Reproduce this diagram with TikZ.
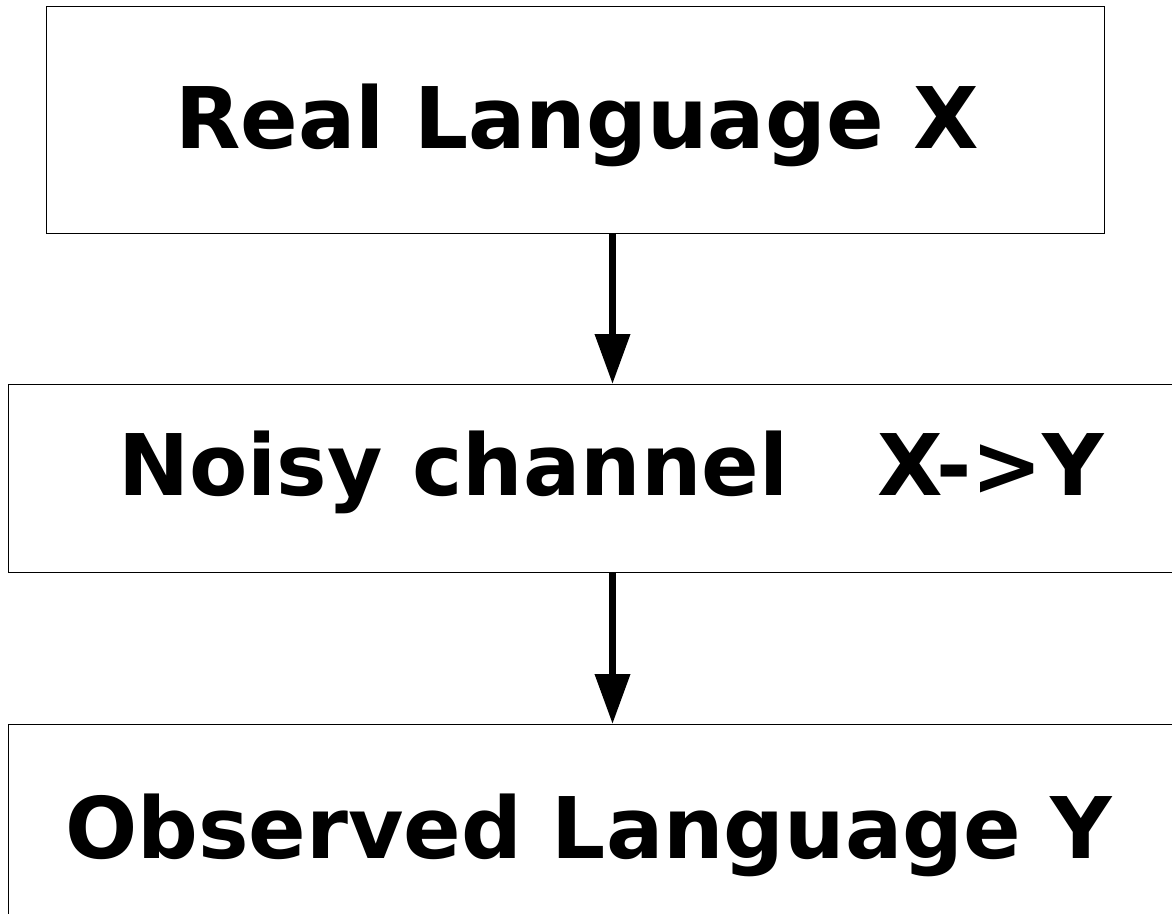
\documentclass[tikz,border=0pt]{standalone}
\usepackage{fontspec}
\setmainfont{DejaVu Sans}
\usetikzlibrary{arrows.meta}
\begin{document}
\begin{tikzpicture}[x=1pt,y=1pt,
  box/.style={draw=black,line width=1pt,inner sep=0pt,anchor=north west},
  lab/.style={anchor=base west,inner sep=0pt,font=\fontsize{85}{100}\selectfont\bfseries},
  flow/.style={line width=7pt,-{Triangle[length=50pt,width=34pt]}}]
\useasboundingbox (0,0) rectangle (1172,-913);
\clip (0,0) rectangle (1172,-913);
\node[box,minimum width=1058pt,minimum height=227pt] (b1) at (46,-6) {};
\node[box,minimum width=1212pt,minimum height=188pt] (b2) at (8,-384) {};
\node[box,minimum width=1212pt,minimum height=220pt] (b3) at (8,-724) {};
\node[lab] (t1) at (175,-148) {Real Language X};
\node[lab] (t2) at (118,-495) {Noisy channel\ \ \ X->Y};
\node[lab] (t3) at (65,-858) {Observed Language Y};
\coordinate (a1) at (612.5,-233);
\coordinate (a2) at (612.5,-384);
\coordinate (a3) at (612.5,-572);
\coordinate (a4) at (612.5,-724);
\draw[flow] (a1) -- (a2);
\draw[flow] (a3) -- (a4);
\end{tikzpicture}
\end{document}
